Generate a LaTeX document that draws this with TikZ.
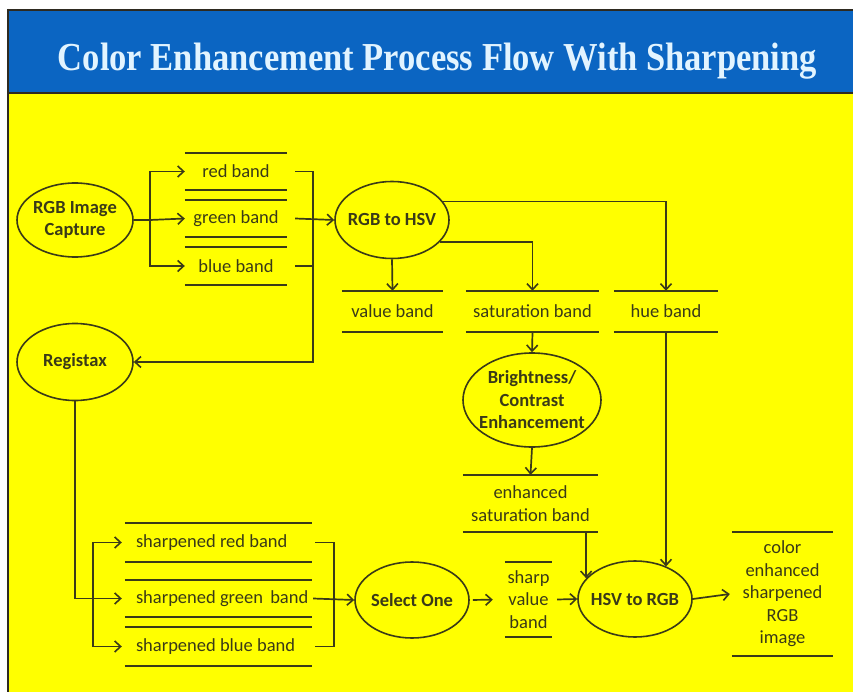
\documentclass[tikz,border=0pt]{standalone}
\usepackage{fontspec}
\setmainfont{Carlito}
\newfontfamily\titlefont{Liberation Serif}
\usetikzlibrary{shapes.geometric,arrows.meta}
\definecolor{ink}{HTML}{3A3A18}
\definecolor{frame}{HTML}{2E2A20}
\definecolor{hdr}{HTML}{0B65C2}
\definecolor{bgy}{HTML}{FFFF00}
\definecolor{ttl}{HTML}{E2F4FF}
\newcommand{\lbox}[1]{\makebox[176pt][l]{#1}}
\begin{document}
\begin{tikzpicture}[x=1pt,y=-1pt,
  conn/.style={draw=ink,line width=1.7pt,-{Straight Barb[length=6pt,width=11pt,line width=1.6pt]}},
  ln/.style={draw=ink,line width=1.7pt},
  proc/.style={ellipse,draw=ink,line width=1.6pt,inner sep=-10pt,
    font=\bfseries\fontsize{18.5}{22.5}\selectfont,text=ink,align=center},
  band/.style={inner sep=0pt,font=\fontsize{18.5}{22.5}\selectfont,text=ink,align=center},
  sband/.style={inner sep=0pt,font=\fontsize{18.5}{22.5}\selectfont,text=ink},
]
\useasboundingbox (0,0) rectangle (853,692);
\fill[white] (0,0) rectangle (853,692);
\fill[bgy] (8,94) rectangle (853,692);
\fill[hdr] (8,10) rectangle (853,93);
\draw[frame,line width=2pt] (7,10) -- (853,10);
\draw[frame,line width=2pt] (8,93.5) -- (853,93.5);
\draw[frame,line width=2.5pt] (8,9) -- (8,692);

\node[anchor=base,text=ttl,inner sep=0pt] (title) at (437.5,71)
  {\resizebox{759pt}{27.5pt}{\titlefont\bfseries Color Enhancement Process Flow With Sharpening}};

% process ellipses
\node[proc,minimum width=116pt,minimum height=74pt] (cap) at (75,220) {RGB Image\\Capture};
\node[proc,minimum width=114pt,minimum height=77pt] (rh) at (392,220) {RGB to HSV};
\node[proc,minimum width=116pt,minimum height=77pt] (reg) at (75,362) {Registax};
\node[proc,minimum width=138pt,minimum height=94pt,inner sep=-14pt] (bc) at (532,400) {Brightness/\\Contrast\\Enhancement};
\node[proc,minimum width=114pt,minimum height=76pt] (sel) at (412,600) {Select One};
\node[proc,minimum width=114pt,minimum height=76pt] (hr) at (635,599) {HSV to RGB};

% bands
\node[band,minimum width=102pt,minimum height=37pt] (red) at (236,171.5) {red band};
\node[band,minimum width=102pt,minimum height=37pt] (green) at (236,218.5) {green band};
\node[band,minimum width=102pt,minimum height=38pt] (blue) at (236,266) {blue band};
\node[band,minimum width=101pt,minimum height=41pt] (value) at (392.5,311.5) {value band};
\node[band,minimum width=133pt,minimum height=41pt] (sat) at (532.5,311.5) {saturation band};
\node[band,minimum width=104pt,minimum height=41pt] (hue) at (666,311.5) {hue band};
\node[band,minimum width=135pt,minimum height=57pt] (enh) at (530.5,503.5) {enhanced\\saturation band};
\node[band,minimum width=47pt,minimum height=75pt] (sv) at (528.5,599.5) {sharp\\value\\band};
\node[band,minimum width=101pt,minimum height=124pt] (out) at (782.5,594) {color\\enhanced\\sharpened\\RGB\\image};
\node[sband,minimum height=39pt] (sred) at (224,542.5) {\lbox{sharpened red band}};
\node[sband,minimum height=37pt] (sgreen) at (224,598.5) {\lbox{sharpened green\hspace{3pt} band}};
\node[sband,minimum height=39pt] (sblue) at (224,646.5) {\lbox{sharpened blue band}};

\foreach \n in {red,green,blue,value,sat,hue,enh,sv,out}
  \draw[ln] (\n.north west) -- (\n.north east) (\n.south west) -- (\n.south east);
\foreach \n in {sred,sgreen,sblue}
  \draw[ln] ([xshift=-11pt]\n.north west) -- (\n.north east) ([xshift=-11pt]\n.south west) -- (\n.south east);

% connectors: capture to bands
\coordinate (sp) at (150,220);
\draw[ln] (cap.east) -- (sp);
\draw[conn] (sp) |- (red.west);
\draw[conn] (sp) -- (green.west);
\draw[conn] (sp) |- (blue.west);

% bands to RGB to HSV and Registax
\coordinate (col) at (313,362);
\draw[conn] ([xshift=8pt]red.east) -| (col) -- (reg.east);
\draw[ln] ([xshift=8pt]blue.east) -- (blue.east -| col);
\draw[conn] ([xshift=8pt]green.east) -- (rh.west);

% RGB to HSV outputs
\draw[conn] (rh.south) -- (value.north);
\draw[conn] (rh.-25) -| (sat.north);
\draw[conn] (rh.20) -| (hue.north);
\draw[conn] (sat.south) -- (bc.north);
\draw[conn] (bc.south) -- (enh.north);
\draw[conn] (hr.157 |- enh.south) -- (hr.157);
\draw[conn] (hue.south) -- (hue.south |- hr.46);

% Registax to sharpened bands
\coordinate (rd) at (75,598.5);
\coordinate (sp2) at (93,598.5);
\draw[ln] (reg.south) -- (rd);
\draw[conn] (rd) -- ([xshift=-14pt]sgreen.west);
\draw[conn] (sp2) |- ([xshift=-14pt]sred.west);
\draw[conn] (sp2) |- ([xshift=-14pt]sblue.west);

% sharpened bands to Select One
\coordinate (col2) at (334,598.5);
\draw[ln] ([xshift=3pt]sred.east) -| (col2 |- sblue.east) -- ([xshift=3pt]sblue.east);
\draw[conn] ([xshift=1pt]sgreen.east) -- (sel.west);

% final chain
\draw[conn,shorten <=3pt,shorten >=12pt] (sel.east) -- (sv.west);
\draw[conn] ([xshift=5pt]sv.east) -- (hr.west);
\draw[conn] (hr.east) -- ([xshift=-2pt]out.west);
\end{tikzpicture}
\end{document}
